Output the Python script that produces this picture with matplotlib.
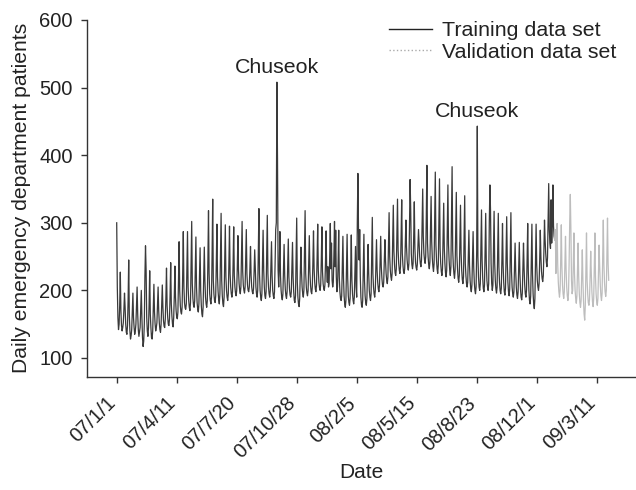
import matplotlib
matplotlib.use("Agg")
import matplotlib.pyplot as plt
from matplotlib.lines import Line2D
import numpy as np

plt.rcParams['font.family'] = ['Liberation Sans', 'DejaVu Sans']

# daily ED visits, 2007-01-01 .. 2008-12-31 (one row = one week, Mon..Sun)
train_counts = [
    300, 205, 160, 142, 150, 178, 227,
    170, 148, 140, 145, 152, 172, 196,
    175, 150, 138, 135, 148, 185, 245,
    165, 140, 128, 133, 142, 170, 196,
    160, 145, 135, 140, 150, 178, 205,
    165, 142, 132, 138, 145, 172, 200,
    160, 130, 117, 125, 150, 220, 266,
    230, 160, 140, 132, 145, 180, 229,
    165, 145, 130, 128, 140, 175, 209,
    168, 150, 140, 145, 152, 178, 205,
    170, 152, 142, 138, 150, 180, 208,
    175, 155, 147, 145, 158, 190, 233,
    178, 160, 150, 148, 158, 195, 241,
    180, 162, 150, 146, 160, 192, 236,
    190, 170, 160, 158, 168, 215, 272,
    200, 178, 168, 165, 175, 225, 287,
    205, 182, 174, 172, 180, 230, 287,
    205, 185, 175, 170, 182, 240, 302,
    210, 188, 178, 175, 185, 230, 279,
    205, 182, 172, 168, 180, 220, 263,
    200, 178, 165, 161, 175, 218, 264,
    215, 190, 180, 175, 185, 245, 318,
    225, 195, 185, 180, 190, 255, 335,
    215, 195, 185, 182, 192, 240, 298,
    220, 198, 186, 180, 195, 250, 314,
    215, 192, 180, 176, 190, 240, 297,
    220, 200, 190, 185, 195, 240, 295,
    225, 205, 195, 190, 198, 240, 294,
    222, 205, 196, 192, 200, 235, 281,
    230, 210, 200, 195, 205, 250, 302,
    228, 208, 200, 196, 205, 245, 290,
    225, 208, 200, 198, 205, 232, 265,
    222, 205, 198, 195, 202, 228, 260,
    230, 205, 195, 190, 200, 255, 321,
    225, 200, 190, 185, 195, 240, 289,
    230, 205, 192, 188, 198, 250, 311,
    225, 205, 195, 190, 200, 235, 272,
    222, 200, 192, 188, 198, 240, 290,
    300, 508, 395, 230, 205, 235, 287,
    222, 200, 190, 186, 195, 230, 268,
    222, 202, 192, 188, 198, 235, 276,
    220, 202, 193, 190, 198, 232, 271,
    220, 198, 185, 182, 192, 245, 307,
    212, 190, 180, 176, 188, 225, 264,
    228, 205, 195, 190, 200, 255, 318,
    225, 205, 196, 192, 200, 238, 281,
    228, 208, 198, 195, 205, 242, 288,
    232, 212, 202, 198, 208, 248, 298,
    230, 212, 204, 200, 208, 245, 294,
    228, 210, 203, 200, 208, 242, 288,
    230, 212, 235, 205, 210, 250, 299,
    232, 270, 215, 205, 212, 252, 302,
    235, 289, 220, 198, 205, 240, 289,
    220, 198, 188, 185, 192, 235, 280,
    218, 192, 180, 175, 185, 232, 283,
    218, 192, 182, 178, 188, 230, 282,
    215, 195, 185, 180, 190, 228, 265,
    205, 190, 300, 373, 290, 245, 290,
    220, 190, 178, 175, 185, 235, 283,
    215, 192, 182, 178, 188, 228, 268,
    225, 200, 190, 185, 195, 250, 308,
    225, 205, 195, 190, 200, 238, 275,
    230, 212, 202, 198, 208, 245, 280,
    235, 218, 208, 205, 212, 245, 275,
    245, 225, 215, 210, 220, 265, 315,
    250, 230, 220, 215, 225, 272, 326,
    258, 238, 226, 222, 232, 280, 335,
    260, 240, 230, 225, 235, 280, 334,
    255, 238, 228, 225, 232, 268, 304,
    265, 245, 235, 230, 240, 295, 364,
    320, 255, 238, 232, 240, 280, 331,
    262, 242, 234, 230, 238, 265, 290,
    270, 250, 240, 235, 245, 295, 350,
    280, 255, 245, 240, 250, 310, 385,
    270, 250, 238, 232, 242, 290, 339,
    272, 248, 235, 228, 240, 305, 375,
    268, 245, 232, 225, 238, 300, 365,
    262, 240, 228, 222, 232, 280, 329,
    262, 240, 226, 220, 230, 290, 356,
    268, 245, 230, 222, 235, 305, 383,
    260, 238, 225, 218, 230, 285, 345,
    252, 232, 218, 212, 222, 272, 326,
    255, 230, 216, 210, 220, 278, 340,
    240, 222, 210, 205, 212, 250, 289,
    238, 215, 203, 198, 208, 248, 287,
    235, 212, 200, 195, 205, 260, 443,
    250, 220, 205, 200, 210, 262, 319,
    245, 218, 203, 198, 208, 258, 314,
    240, 215, 205, 200, 210, 300, 356,
    320, 240, 210, 200, 208, 258, 317,
    240, 215, 202, 196, 205, 255, 314,
    235, 212, 200, 195, 203, 245, 299,
    238, 212, 198, 193, 203, 252, 309,
    240, 212, 198, 192, 202, 255, 315,
    228, 205, 195, 190, 198, 232, 270,
    228, 205, 193, 188, 198, 232, 271,
    225, 202, 190, 186, 196, 230, 270,
    232, 208, 195, 190, 200, 245, 299,
    228, 200, 185, 180, 192, 242, 298,
    225, 195, 180, 173, 188, 240, 298,
    238, 215, 205, 200, 210, 245, 289,
    250, 228, 218, 213, 222, 258, 304,
    275, 255, 242, 235, 248, 300, 358,
    290, 270, 262, 334, 270, 300, 356,
    295, 280, 275,
]

# 2009-01-01 .. 2009-03-31
valid_counts = [
                   290, 225, 250, 299,
    240, 212, 198, 190, 200, 245, 297,
    235, 208, 195, 188, 198, 240, 280,
    230, 205, 192, 185, 195, 240, 300,
    342, 290, 215, 195, 200, 240, 285,
    225, 200, 188, 181, 192, 230, 270,
    220, 195, 182, 175, 185, 222, 260,
    215, 185, 165, 156, 178, 230, 285,
    215, 195, 182, 178, 186, 220, 258,
    225, 198, 183, 176, 188, 235, 285,
    220, 195, 183, 178, 188, 228, 267,
    235, 208, 192, 185, 196, 250, 304,
    238, 212, 198, 191, 200, 252, 307,
    240, 215,
]

tick_labels = ['07/1/1', '07/4/11', '07/7/20', '07/10/28', '08/2/5',
               '08/5/15', '08/8/23', '08/12/1', '09/3/11']
holiday_days = [267, 601]

n_train = len(train_counts)
x_train = np.arange(n_train)
x_valid = np.arange(n_train - 1, n_train + len(valid_counts))
y_valid = [train_counts[-1]] + valid_counts

fig = plt.figure(figsize=(6.36, 4.9), dpi=100)
ax = fig.add_axes([0.1368, 0.2316, 0.8632, 0.7276])

ax.plot(x_train, train_counts, color='#3a3a3a', lw=0.9)
ax.plot(x_valid, y_valid, color='#bdbdbd', lw=0.9)

for d in holiday_days:
    ax.text(d, train_counts[d] + 21, 'Chuseok', ha='center', va='center',
            fontsize=15.4, color='#222222')

ax.set_xlim(-49.5, 865.5)
ax.set_ylim(72.6, 600)
ax.set_yticks([100, 200, 300, 400, 500, 600])
ax.set_xticks(np.arange(len(tick_labels)) * 100)
ax.set_xticklabels(tick_labels, rotation=45, ha='right', va='baseline',
                   rotation_mode='anchor')

for s in ['top', 'right']:
    ax.spines[s].set_visible(False)
for s in ['left', 'bottom']:
    ax.spines[s].set_color('#333333')
    ax.spines[s].set_linewidth(1.0)
ax.tick_params(direction='out', length=4.3, width=1.0, color='#333333',
               labelsize=14.5, labelcolor='#222222')
ax.tick_params(axis='x', pad=15.5)
ax.tick_params(axis='y', pad=6)

ax.set_xlabel('Date', fontsize=15, color='#222222', labelpad=1)
ax.set_ylabel('Daily emergency department patients', fontsize=15.2,
              color='#222222', labelpad=6)

handles = [Line2D([], [], color='#222222', lw=1.0),
           Line2D([], [], color='#aaaaaa', lw=1.0, ls=':')]
ax.legend(handles, ['Training data set', 'Validation data set'],
          loc='upper left', bbox_to_anchor=(389 / 636, 1 - 21 / 490),
          bbox_transform=fig.transFigure, frameon=False, fontsize=15.4,
          borderpad=0, borderaxespad=0, handlelength=2.0,
          handletextpad=0.5, labelspacing=0.12, labelcolor='#222222')

fig.savefig('out.png', dpi=100)
